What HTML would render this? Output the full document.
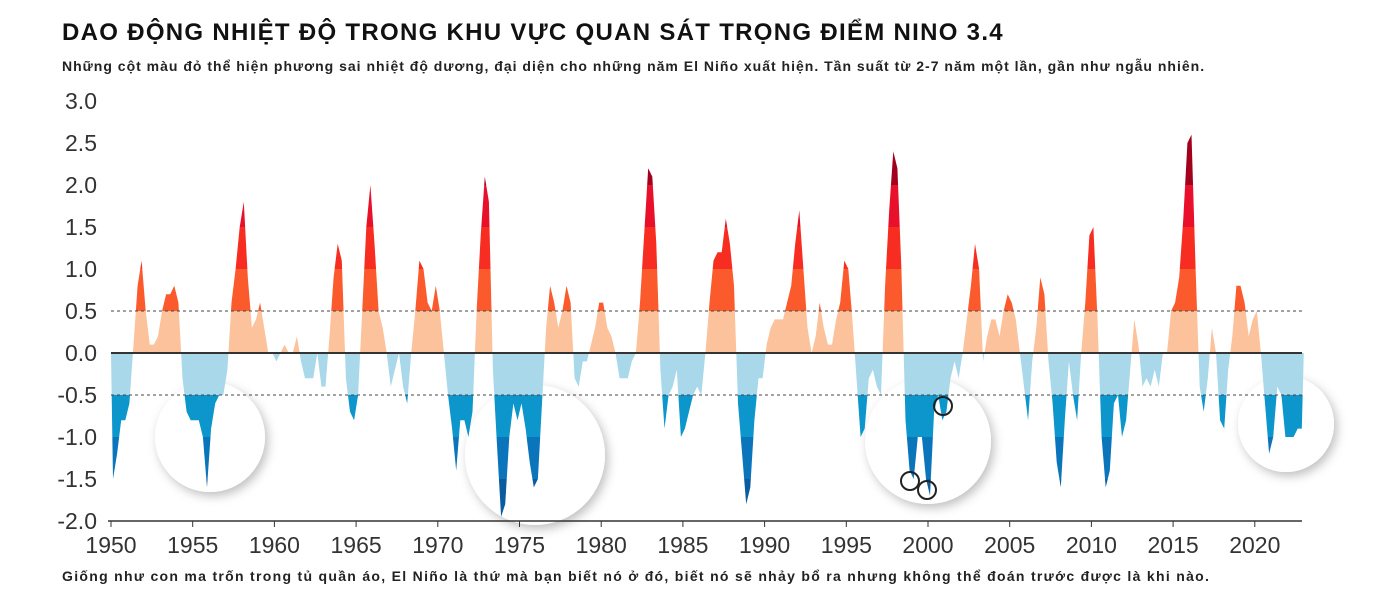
<!DOCTYPE html>
<html><head><meta charset="utf-8"><style>
body{margin:0;background:#fff;width:1375px;height:596px;overflow:hidden;font-family:"Liberation Sans","DejaVu Sans",sans-serif}
#title{position:absolute;left:62px;top:19px;font-size:24px;font-weight:bold;color:#111;letter-spacing:1.3px;white-space:nowrap}
#sub{position:absolute;left:62px;top:58px;font-size:14px;font-weight:bold;color:#222;letter-spacing:1px;white-space:nowrap}
#cap{position:absolute;left:62px;top:568px;font-size:14px;font-weight:bold;color:#222;letter-spacing:1.3px;white-space:nowrap}
svg{position:absolute;left:0;top:0}
</style></head><body>
<div id="title">DAO ĐỘNG NHIỆT ĐỘ TRONG KHU VỰC QUAN SÁT TRỌNG ĐIỂM NINO 3.4</div>
<div id="sub">Những cột màu đỏ thể hiện phương sai nhiệt độ dương, đại diện cho những năm El Niño xuất hiện. Tần suất từ 2-7 năm một lần, gần như ngẫu nhiên.</div>
<div id="cap">Giống như con ma trốn trong tủ quần áo, El Niño là thứ mà bạn biết nó ở đó, biết nó sẽ nhảy bổ ra nhưng không thể đoán trước được là khi nào.</div>
<svg id="chart" width="1375" height="596">
<defs><filter id="sh" x="-30%" y="-30%" width="160%" height="160%"><feDropShadow dx="3" dy="4" stdDeviation="5" flood-color="#000" flood-opacity="0.25"/></filter></defs>
</svg>
<script>
const startYear = 1950;
const stepsPerYear = 4;
const oni = [
-1.5,-1.2,-0.8,-0.8, -0.6,0.1,0.8,1.1, 0.5,0.1,0.1,0.2, 0.5,0.7,0.7,0.8, 0.6,-0.3,-0.7,-0.8,
-0.8,-0.8,-1.0,-1.6, -0.9,-0.6,-0.5,-0.5, -0.2,0.6,1.0,1.5, 1.8,0.9,0.3,0.4, 0.6,0.3,0.0,0.0,
-0.1,0.0,0.1,0.0, 0.0,0.2,-0.1,-0.3, -0.3,-0.3,0.0,-0.4, -0.4,0.2,0.9,1.3, 1.1,-0.3,-0.7,-0.8,
-0.5,0.5,1.5,2.0, 1.3,0.5,0.3,0.0, -0.4,-0.2,0.0,-0.4, -0.6,0.0,0.5,1.1, 1.0,0.6,0.5,0.8,
0.5,0.0,-0.5,-0.9, -1.4,-0.8,-0.8,-1.0, -0.7,0.5,1.4,2.1, 1.8,-0.2,-1.1,-1.95, -1.8,-1.0,-0.6,-0.8,
-0.6,-0.9,-1.3,-1.6, -1.5,-0.6,0.3,0.8, 0.6,0.3,0.5,0.8, 0.6,-0.3,-0.4,-0.1, -0.1,0.1,0.3,0.6,
0.6,0.3,0.2,0.0, -0.3,-0.3,-0.3,-0.1, 0.0,0.6,1.4,2.2, 2.1,1.3,-0.2,-0.9, -0.5,-0.4,-0.2,-1.0,
-0.9,-0.7,-0.5,-0.4, -0.5,0.0,0.6,1.1, 1.2,1.2,1.6,1.3, 0.8,-0.6,-1.2,-1.8, -1.6,-0.8,-0.3,-0.3,
0.1,0.3,0.4,0.4, 0.4,0.6,0.8,1.3, 1.7,1.0,0.3,0.0, 0.2,0.6,0.3,0.1, 0.1,0.4,0.6,1.1,
1.0,0.4,-0.3,-1.0, -0.9,-0.3,-0.2,-0.4, -0.5,0.8,1.7,2.4, 2.2,1.0,-0.8,-1.4, -1.5,-1.0,-1.0,-1.5,
-1.7,-0.7,-0.5,-0.8, -0.7,-0.3,-0.1,-0.3, 0.0,0.4,0.8,1.3, 1.0,-0.1,0.2,0.4, 0.4,0.2,0.5,0.7,
0.6,0.4,0.0,-0.4, -0.8,-0.1,0.3,0.9, 0.7,-0.1,-0.6,-1.3, -1.6,-0.8,-0.1,-0.5, -0.8,0.0,0.6,1.4,
1.5,0.4,-1.0,-1.6, -1.4,-0.6,-0.5,-1.0, -0.8,-0.2,0.4,0.1, -0.4,-0.3,-0.4,-0.2, -0.4,0.0,0.0,0.5,
0.6,0.9,1.6,2.5, 2.6,1.0,-0.4,-0.7, -0.3,0.3,0.0,-0.8, -0.9,-0.2,0.2,0.8, 0.8,0.6,0.2,0.4,
0.5,0.0,-0.6,-1.2, -1.0,-0.4,-0.5,-1.0, -1.0,-1.0,-0.9,-0.9
];
const yTicks = [3.0,2.5,2.0,1.5,1.0,0.5,0.0,-0.5,-1.0,-1.5,-2.0];
const xTicks = [1950,1955,1960,1965,1970,1975,1980,1985,1990,1995,2000,2005,2010,2015,2020];
const bands = [[2,3,'#a3001e'],[1.5,2,'#e8102a'],[1,1.5,'#f72d22'],[0.5,1,'#fb5a2c'],[0,0.5,'#fcc29c'],
 [-0.5,0,'#a8d8ea'],[-1,-0.5,'#0c96cc'],[-1.5,-1,'#0b75bb'],[-2.1,-1.5,'#0a5ba0']];

const X = y => 111 + (y - 1950) * 16.34;
const Y = v => 353 - v * 84;
const svg = document.getElementById('chart');
const NS = 'http://www.w3.org/2000/svg';
function mk(tag, attrs){const e=document.createElementNS(NS,tag);for(const k in attrs)e.setAttribute(k,attrs[k]);svg.appendChild(e);return e;}

[[210,437,55],[535,455,70],[928,441,63],[1286,424,48]].forEach(c=>{
 const e=mk('circle',{cx:c[0],cy:c[1],r:c[2],fill:'#fff',filter:'url(#sh)'});
 
 
});

let d = 'M' + X(startYear) + ',' + Y(0);
oni.forEach((v,i)=>{ d += ' L' + X(startYear + i/stepsPerYear + 0.125).toFixed(1) + ',' + Y(v).toFixed(1); });
d += ' L' + X(startYear + oni.length/stepsPerYear).toFixed(1) + ',' + Y(0) + ' Z';
const defs = svg.querySelector('defs');
bands.forEach((b,i)=>{
 const cp=document.createElementNS(NS,'clipPath');cp.setAttribute('id','cb'+i);
 const r=document.createElementNS(NS,'rect');
 r.setAttribute('x',0);r.setAttribute('width',1375);r.setAttribute('y',Y(b[1]));r.setAttribute('height',Y(b[0])-Y(b[1]));
 cp.appendChild(r);defs.appendChild(cp);
 const p=mk('path',{d:d,fill:b[2],'clip-path':'url(#cb'+i+')'});
 
 
});

[0.5,-0.5].forEach(v=>{
 const l=mk('line',{x1:111,x2:1302,y1:Y(v),y2:Y(v),stroke:'#444','stroke-width':1,'stroke-dasharray':'3,3'});
 
 
});
const z=mk('line',{x1:111,x2:1302,y1:Y(0),y2:Y(0),stroke:'#333','stroke-width':2});


const ax=mk('line',{x1:108,x2:1302,y1:Y(-2),y2:Y(-2),stroke:'#333','stroke-width':1.5});



yTicks.forEach(v=>{
 const t=mk('text',{x:97,y:Y(v)+8,'text-anchor':'end','font-size':23,fill:'#333'});
 t.textContent=v.toFixed(1);
 
 
});
xTicks.forEach(yr=>{
 const tk=mk('line',{x1:X(yr),x2:X(yr),y1:Y(-2),y2:Y(-2)+6,stroke:'#333'});
 
 
 const t=mk('text',{x:X(yr),y:553,'text-anchor':'middle','font-size':23,fill:'#333'});
 t.textContent=yr;
 
 
});

[[943,406],[910,481],[927,490]].forEach(m=>{
 const c=mk('circle',{cx:m[0],cy:m[1],r:9,fill:'none',stroke:'#222','stroke-width':2});
 
 
});
</script>
</body></html>
